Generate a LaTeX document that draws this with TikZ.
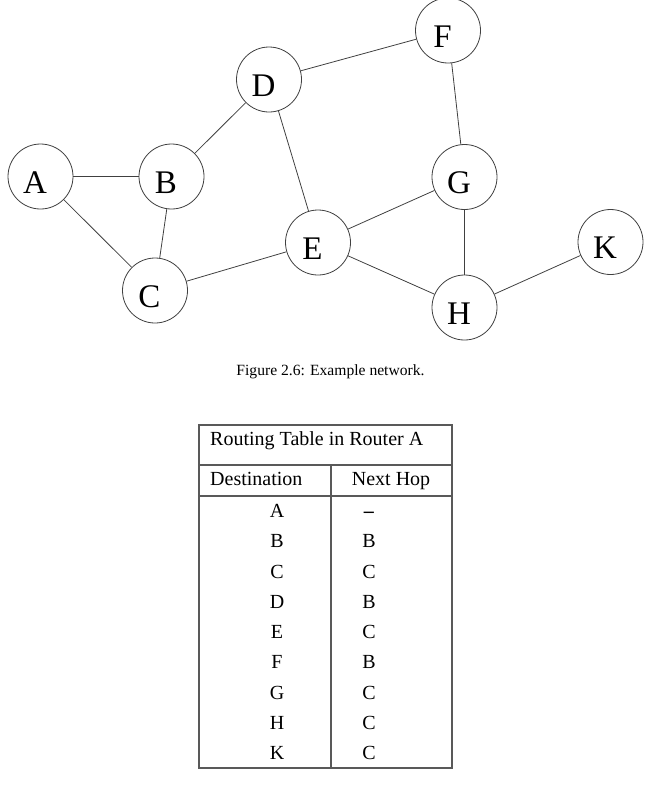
\documentclass[tikz,border=0pt]{standalone}
\usepackage{fontspec}
\setmainfont{Liberation Serif}
\usetikzlibrary{positioning}

\begin{document}
\begin{tikzpicture}[
        x=1pt, y=-1pt,
        router/.style={
            circle,
            draw=black!75,
            line width=0.8pt,
            minimum size=65pt,
            inner sep=0pt,
            font=\fontsize{33}{40}\selectfont,
            text height=33.8pt,
            text depth=0pt,
            execute at end node={\kern11pt}
        },
        link/.style={
            draw=black!75,
            line width=0.8pt
        },
        rule/.style={
            draw=black!65,
            line width=1.1pt
        },
        cell/.style={
            inner sep=0pt,
            font=\fontsize{20}{24}\selectfont,
            text height=13.2pt,
            text depth=0pt
        },
        caption/.style={
            inner sep=0pt,
            font=\fontsize{15.6}{19}\selectfont,
            text height=10.3pt,
            text depth=0pt
        }
    ]
    \useasboundingbox (0,0) rectangle (655,790);

    % Routers
    \node (A) [router] at (40.5,176.5) {A};
    \node (B) [router] at (171.5,176.5) {B};
    \node (C) [router] at (155,290.5) {C};
    \node (D) [router] at (269,79.5) {D};
    \node (E) [router] at (318,242.5) {E};
    \node (F) [router] at (448,30.5) {F};
    \node (G) [router] at (464.5,177) {G};
    \node (H) [router] at (464.5,307.5) {H};
    \node (K) [router] at (610.5,242) {K};

    % Links
    \draw [link] (A) -- (B);
    \draw [link] (A) -- (C);
    \draw [link] (B) -- (C);
    \draw [link] (B) -- (D);
    \draw [link] (D) -- (F);
    \draw [link] (D) -- (E);
    \draw [link] (C) -- (E);
    \draw [link] (E) -- (G);
    \draw [link] (E) -- (H);
    \draw [link] (F) -- (G);
    \draw [link] (G) -- (H);
    \draw [link] (H) -- (K);

    % Caption
    \node (cap) [caption] at (330.5,370) {Figure 2.6: Example network.};

    % Routing table
    \draw [rule] (199,425) rectangle (452,768);
    \draw [rule] (199,465) -- (452,465);
    \draw [rule] (199,496) -- (452,496);
    \draw [rule] (331,465) -- (331,768);

    \node (title) [cell, anchor=west] at (210,439) {Routing Table in Router A};
    \node (dest) [cell, anchor=west] at (210,479) {Destination};
    \node (hop) [cell, anchor=west] at (351.7,479) {Next Hop};

    \foreach \dst/\nxt [count=\i from 0] in {A/\textbf{\textendash}, B/B, C/C, D/B, E/C, F/B, G/C, H/C, K/C} {
        \node (dst\dst) [cell] at (277,511+30.25*\i) {\dst};
        \node (nxt\dst) [cell] at (369,511+30.25*\i) {\nxt};
    }

\end{tikzpicture}
\end{document}
